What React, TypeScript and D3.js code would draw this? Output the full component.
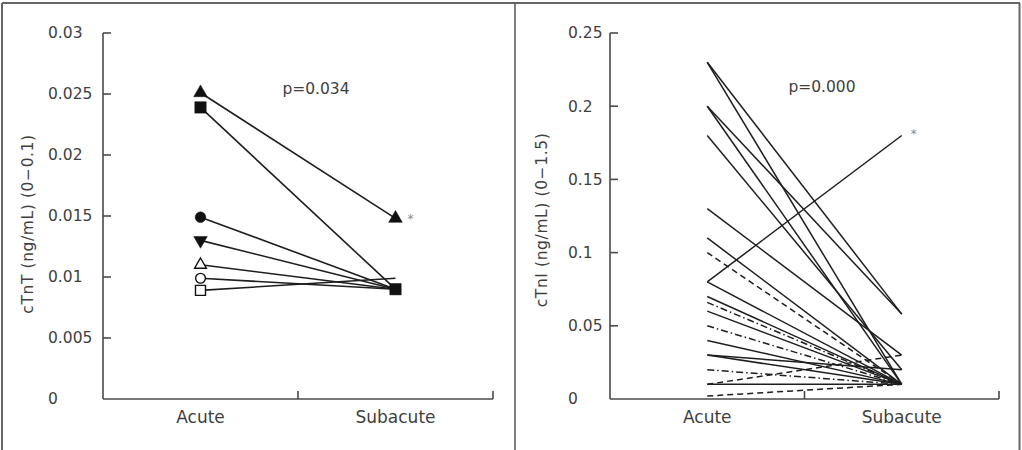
import React from "react";
import * as d3 from "d3";

const categories = ["Acute", "Subacute"];

// Left panel (cTnT)
const tntTicks = [0, 0.005, 0.01, 0.015, 0.02, 0.025, 0.03];
const tntTickLabels = ["0", "0.005", "0.01", "0.015", "0.02", "0.025", "0.03"];
const tntAcute = [0.0251, 0.0239, 0.0149, 0.013, 0.011, 0.0099, 0.0089];
const tntSubacute = [0.0148, 0.009, 0.009, 0.009, 0.009, 0.009, 0.0099];
const tntMarkers = ["triangle", "square", "circle", "triangleDown", "triangle", "circle", "square"];
const tntFilled = [true, true, true, true, false, false, false];
const tntP = "p=0.034";

// Right panel (cTnI)
const tniTicks = [0, 0.05, 0.1, 0.15, 0.2, 0.25];
const tniTickLabels = ["0", "0.05", "0.1", "0.15", "0.2", "0.25"];
const tniAcute = [0.23, 0.23, 0.2, 0.2, 0.18, 0.13, 0.11, 0.1, 0.08, 0.08, 0.07, 0.066, 0.06, 0.05, 0.04, 0.03, 0.03, 0.02, 0.01, 0.01, 0.002];
const tniSubacute = [0.058, 0.01, 0.058, 0.01, 0.02, 0.03, 0.01, 0.01, 0.18, 0.01, 0.01, 0.01, 0.01, 0.01, 0.01, 0.02, 0.01, 0.01, 0.01, 0.03, 0.01];
const tniStyle = ["solid", "solid", "solid", "solid", "solid", "solid", "solid", "dashed", "solid", "solid", "solid", "dashdot", "solid", "dashdot", "solid", "solid", "solid", "dashdot", "solid", "dashed", "dashed"];
const tniP = "p=0.000";

const FONT = "'DejaVu Sans', Verdana, sans-serif";
const TXT = "#3f3f3f";
const AX = "#4a4a4a";
const LN = "#1e1e1e";

const dashMap: Record<string, string | undefined> = {
  solid: undefined,
  dashed: "6,4",
  dashdot: "7,3,1.5,3",
};

function symbolPath(kind: string, filled: boolean) {
  if (kind === "square") return d3.symbol(d3.symbolSquare, filled ? 130 : 100)();
  if (kind === "circle") return d3.symbol(d3.symbolCircle, filled ? 90 : 75)();
  return d3.symbol(d3.symbolTriangle, filled ? 80 : 60)();
}

function Panel(props: {
  x0: number; x1: number; yMax: number; ticks: number[]; tickLabels: string[];
  labelX: number; title: string; titleX: number; titleY: number; pText: string; pX: number; pY: number;
  children: (x: (c: string) => number, y: d3.ScaleLinear<number, number>) => React.ReactNode;
}) {
  const { x0, x1, yMax, ticks, tickLabels, labelX, title, titleX, titleY, pText, pX, pY } = props;
  const xb = d3.scaleBand().domain(categories).range([x0, x1]);
  const xc = (c: string) => (xb(c) as number) + xb.bandwidth() / 2;
  const y = d3.scaleLinear().domain([0, yMax]).range([399, 33]);
  const bounds = categories.map((c) => (xb(c) as number) + xb.bandwidth());
  return (
    <g>
      <line x1={x0} x2={x0} y1={y(0)} y2={y(yMax)} stroke={AX} strokeWidth={1.6} />
      {ticks.map((t, i) => (
        <g key={i}>
          {t > 0 && <line x1={x0} x2={x0 + 8} y1={y(t)} y2={y(t)} stroke={AX} strokeWidth={1.6} />}
          <text x={labelX} y={y(t)} dy="0.35em" fontSize={15.5} fill={TXT} fontFamily={FONT}>
            {tickLabels[i]}
          </text>
        </g>
      ))}
      <line x1={x0} x2={x1} y1={y(0)} y2={y(0)} stroke={AX} strokeWidth={1.6} />
      {bounds.map((b, i) => (
        <line key={i} x1={b} x2={b} y1={y(0)} y2={y(0) - 8} stroke={AX} strokeWidth={1.6} />
      ))}
      {categories.map((c) => (
        <text key={c} x={xc(c)} y={417} dy="0.35em" textAnchor="middle" fontSize={17} fill={TXT} fontFamily={FONT}>
          {c}
        </text>
      ))}
      <text
        transform={`translate(${titleX},${titleY}) rotate(-90)`}
        textAnchor="middle"
        dy="0.35em"
        fontSize={15.5}
        letterSpacing={0.6}
        fill={TXT}
        fontFamily={FONT}
      >
        {title}
      </text>
      <text x={pX} y={pY} dy="0.35em" textAnchor="middle" fontSize={15.5} fill={TXT} fontFamily={FONT}>
        {pText}
      </text>
      {props.children(xc, y)}
    </g>
  );
}

export default function App() {
  return (
    <svg width={1022} height={450} style={{ position: "absolute", left: 0, top: 0, background: "#fff" }}>
      <rect x={0} y={0} width={1022} height={450} fill="#fff" />
      <line x1={2} x2={1020} y1={3} y2={3} stroke="#666" strokeWidth={2} />
      <line x1={2} x2={2} y1={3} y2={450} stroke="#666" strokeWidth={2} />
      <line x1={515} x2={515} y1={3} y2={450} stroke="#555" strokeWidth={1.5} />
      <line x1={1019.5} x2={1019.5} y1={3} y2={450} stroke="#666" strokeWidth={2} />

      <Panel
        x0={103} x1={493} yMax={0.03} ticks={tntTicks} tickLabels={tntTickLabels}
        labelX={48} title="cTnT (ng/mL) (0−0.1)" titleX={28} titleY={224} pText={tntP} pX={316} pY={89}
      >
        {(xc, y) => {
          const xa = xc(categories[0]);
          const xs = xc(categories[1]);
          const squareIdx = tntMarkers.findIndex((m, i) => m === "square" && tntFilled[i]);
          return (
            <g>
              {tntAcute.map((v, i) => (
                <line key={"l" + i} x1={xa} y1={y(v)} x2={xs} y2={y(tntSubacute[i])} stroke={LN} strokeWidth={1.6} />
              ))}
              {tntAcute.map((v, i) => (
                <path
                  key={"a" + i}
                  d={symbolPath(tntMarkers[i], tntFilled[i]) as string}
                  transform={`translate(${xa},${y(v)})${tntMarkers[i] === "triangleDown" ? " rotate(180)" : ""}`}
                  fill={tntFilled[i] ? "#111" : "#fff"}
                  stroke="#111"
                  strokeWidth={tntFilled[i] ? 0.5 : 1.4}
                />
              ))}
              {tntSubacute
                .map((v, i) => ({ v, i }))
                .filter((d) => tntFilled[d.i] && (d.i === squareIdx || d.v !== tntSubacute[squareIdx]))
                .map(({ v, i }) => (
                  <path
                    key={"s" + i}
                    d={symbolPath(tntMarkers[i], true) as string}
                    transform={`translate(${xs},${y(v)})`}
                    fill="#111"
                    stroke="#111"
                    strokeWidth={0.5}
                  />
                ))}
              <text x={xs + 12} y={y(tntSubacute[0])} dy="0.4em" fontSize={12} fill="#888" fontFamily={FONT}>*</text>
            </g>
          );
        }}
      </Panel>

      <Panel
        x0={610} x1={999} yMax={0.25} ticks={tniTicks} tickLabels={tniTickLabels}
        labelX={568} title="cTnI (ng/mL) (0−1.5)" titleX={542} titleY={220} pText={tniP} pX={822} pY={87}
      >
        {(xc, y) => {
          const xa = xc(categories[0]);
          const xs = xc(categories[1]);
          return (
            <g>
              {tniAcute.map((v, i) => (
                <line
                  key={i}
                  x1={xa}
                  y1={y(v)}
                  x2={xs}
                  y2={y(tniSubacute[i])}
                  stroke={LN}
                  strokeWidth={1.5}
                  strokeDasharray={dashMap[tniStyle[i]]}
                />
              ))}
              <text x={xs + 9} y={y(0.18) - 2} dy="0.4em" fontSize={12} fill="#888" fontFamily={FONT}>*</text>
            </g>
          );
        }}
      </Panel>
    </svg>
  );
}
